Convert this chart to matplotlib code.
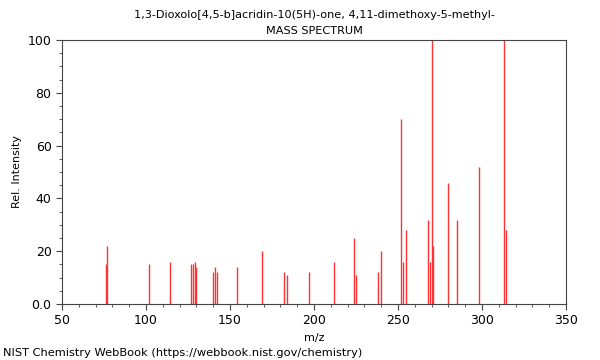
import matplotlib
matplotlib.use("Agg")
import matplotlib.pyplot as plt
from matplotlib.ticker import MultipleLocator, FuncFormatter

# m/z peaks and relative intensities
mz = [76, 77, 102, 114, 127, 128, 129, 130, 140, 141, 142, 154, 169, 182, 184,
      197, 212, 224, 225, 238, 240, 252, 253, 255, 268, 269, 270, 271, 280,
      285, 298, 313, 314]
intensity = [15, 22, 15, 16, 15, 15, 16, 14, 12, 14, 12, 14, 20, 12, 11,
             12, 16, 25, 11, 12, 20, 70, 16, 28, 32, 16, 100, 22, 46,
             32, 52, 100, 28]

title = "1,3-Dioxolo[4,5-b]acridin-10(5H)-one, 4,11-dimethoxy-5-methyl-\nMASS SPECTRUM"

fig = plt.figure(figsize=(6, 3.6), dpi=100)
ax = fig.add_axes([62 / 600, 1 - 304 / 360, 504 / 600, 264 / 360])

ax.vlines(mz, 0, intensity, colors="#ff3333", linewidth=1)

ax.set_xlim(50, 350)
ax.set_ylim(0, 100)
ax.xaxis.set_major_locator(MultipleLocator(50))
ax.xaxis.set_minor_locator(MultipleLocator(10))
ax.yaxis.set_major_locator(MultipleLocator(20))
ax.yaxis.set_minor_locator(MultipleLocator(5))
ax.yaxis.set_major_formatter(FuncFormatter(lambda v, p: "0.0" if v == 0 else f"{v:.0f}"))

for s in ax.spines.values():
    s.set_color("#444444")
    s.set_linewidth(0.8)
ax.tick_params(which="both", direction="out", colors="#444444", labelcolor="black",
               labelsize=9, top=False, right=False)
ax.tick_params(which="major", length=4)
ax.tick_params(which="minor", length=2)

ax.set_xlabel("m/z", fontsize=8)
ax.set_ylabel("Rel. Intensity", fontsize=8)
ax.set_title(title, fontsize=8.1, linespacing=1.8, pad=4)

fig.text(3 / 600, 1 - 353 / 360, "NIST Chemistry WebBook (https://webbook.nist.gov/chemistry)",
         fontsize=8.2, va="center")

fig.savefig("out.png", dpi=100)
